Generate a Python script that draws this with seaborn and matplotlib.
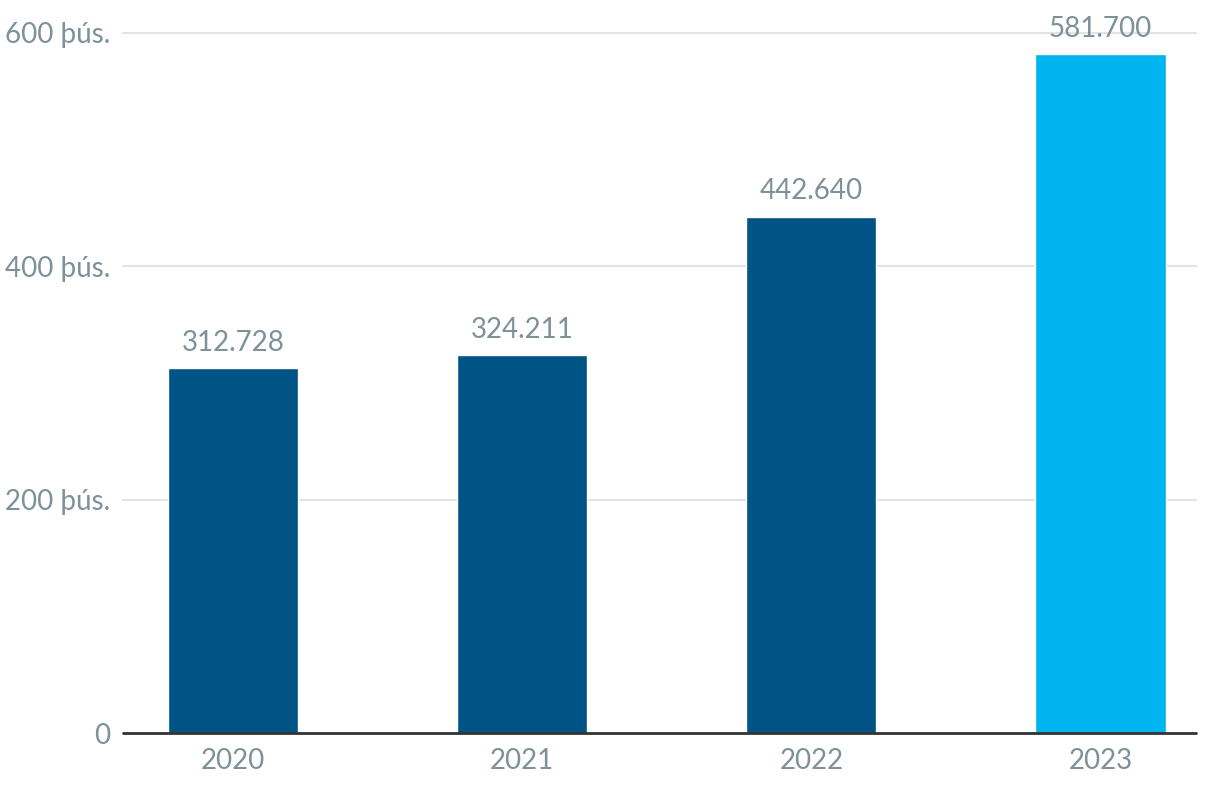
import matplotlib
matplotlib.use("Agg")
import matplotlib.pyplot as plt
import seaborn as sns
import pandas as pd

years = ["2020", "2021", "2022", "2023"]
values = [312728, 324211, 442640, 581700]
bar_colors = ["#005385", "#005385", "#005385", "#00b4ef"]
ytick_vals = [0, 200000, 400000, 600000]
ytick_labels = ["0", "200 þús.", "400 þús.", "600 þús."]

sns.set_theme(style="white")
plt.rcParams['font.family'] = ['Lato', 'DejaVu Sans']

text_color = "#7d9199"

df = pd.DataFrame({"year": years, "value": values})

fig = plt.figure(figsize=(12.2, 7.96), dpi=100)
ax = fig.add_axes([123/1220, 63/796, (1196-123)/1220, (733-33)/796])

sns.barplot(data=df, x="year", y="value", hue="year", palette=bar_colors,
            width=0.45, legend=False, ax=ax, saturation=1, zorder=3)

ax.set_ylim(0, 600000)
ax.set_xlim(-0.38, 3.33)
ax.set_yticks(ytick_vals)
ax.set_yticklabels(ytick_labels)
ax.set_xlabel("")
ax.set_ylabel("")

for y in ytick_vals[1:]:
    ax.axhline(y, color="#e3e3e3", linewidth=1.5, zorder=1, clip_on=False)
ax.axhline(0, color="#333333", linewidth=2, zorder=4, clip_on=False)

for s in ax.spines.values():
    s.set_visible(False)

ax.tick_params(axis="both", length=0, labelsize=20, colors=text_color)
ax.tick_params(axis="y", pad=9)
ax.tick_params(axis="x", pad=11)
for lab in ax.get_xticklabels() + ax.get_yticklabels():
    lab.set_fontweight("normal")
    lab.set_color(text_color)

for i, v in enumerate(values):
    s = f"{v:,}".replace(",", ".")
    ax.text(i, v + 10500, s, ha="center", va="bottom", fontsize=20,
            fontweight="normal", color=text_color, clip_on=False, zorder=5)

fig.savefig("out.png", dpi=100, facecolor="white")
